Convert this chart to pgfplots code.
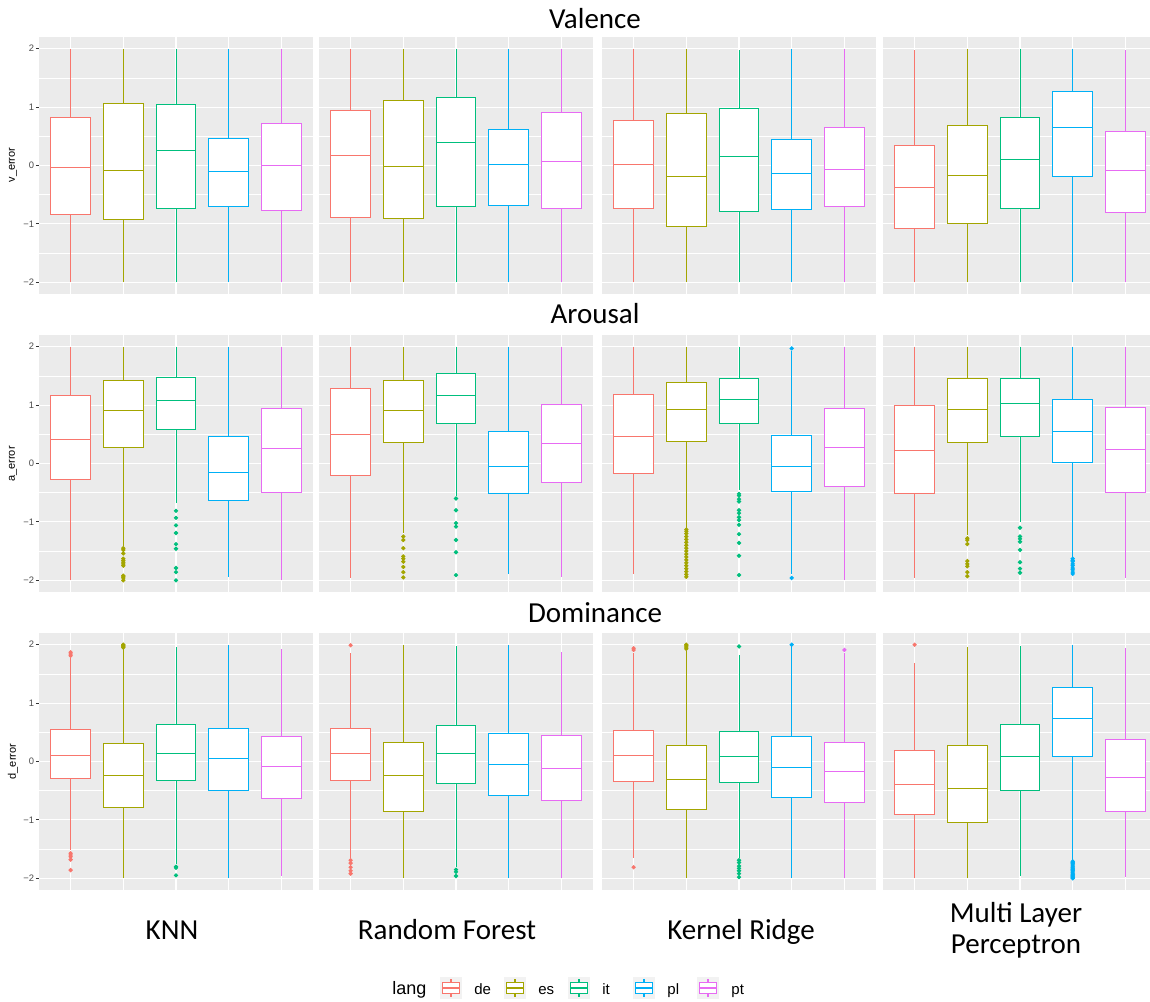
\documentclass[border=0pt]{standalone}
\usepackage{fontspec}
\setmainfont{Liberation Sans}
\newfontfamily\calfont{Carlito}
\usepackage{pgfplots}
\pgfplotsset{compat=1.18}
\usepgfplotslibrary{statistics}
\definecolor{cde}{HTML}{F8766D}
\definecolor{ces}{HTML}{A3A500}
\definecolor{cit}{HTML}{00BF7D}
\definecolor{cpl}{HTML}{00B0F6}
\definecolor{cpt}{HTML}{E76BF3}
\definecolor{ggbg}{HTML}{EBEBEB}
\definecolor{ggkey}{HTML}{F2F2F2}
\definecolor{ggtick}{HTML}{333333}
\definecolor{ggtext}{HTML}{4D4D4D}

\pgfplotsset{
  panel/.style={
    scale only axis, width=137pt, height=128.5pt, anchor=north west,
    xmin=0.4, xmax=5.6, ymin=-2.2, ymax=2.2,
    axis background/.style={fill=ggbg},
    axis line style={draw=none},
    xtick={1,2,3,4,5}, xticklabels={},
    ytick={-2,-1,0,1,2}, minor ytick={-1.5,-0.5,0.5,1.5},
    xmajorgrids, ymajorgrids, yminorgrids,
    major grid style={white, line width=0.55pt},
    minor grid style={white, line width=0.27pt},
    x tick style={draw=none},
    y tick style={draw=none},
    minor y tick style={draw=none},
    minor tick length=0pt,
    yticklabels={},
    boxplot/draw direction=y,
  },
  firstcol/.style={
    yticklabels={−2,−1,0,1,2},
    major y tick style={draw=ggtick, line width=0.5pt},
    tick align=outside, major tick length=1.5pt, ytick pos=left,
    yticklabel style={font=\fontsize{4.7}{5}\selectfont, text=ggtext, inner sep=0pt, xshift=-0.8pt},
  },
}
\newcommand{\bp}[7]{\addplot[#1, line width=0.5pt, fill=white,
  boxplot prepared={draw direction=y, draw position=#2, lower whisker=#3, lower quartile=#4,
  median=#5, upper quartile=#6, upper whisker=#7, box extend=0.75, whisker extend=0}] coordinates {};}
\newcommand{\bpo}[8]{\addplot[#1, line width=0.5pt, fill=white, mark=*, mark size=0.8pt,
  mark options={solid, fill=#1, draw=none},
  boxplot prepared={draw direction=y, draw position=#2, lower whisker=#3, lower quartile=#4,
  median=#5, upper quartile=#6, upper whisker=#7, box extend=0.75, whisker extend=0}]
  table[row sep=\\, y index=0] {d\\ #8};}
\newcommand\lkey[3]{%
  \begin{scope}[xshift=#1pt]
    \fill[ggkey] (0,-488.5pt) rectangle (11pt,-499.5pt);
    \draw[#2, line width=0.55pt, fill=white] (1.375pt,-491.25pt) rectangle (9.625pt,-496.75pt);
    \draw[#2, line width=0.55pt] (1.375pt,-494pt) -- (9.625pt,-494pt);
    \draw[#2, line width=0.55pt] (5.5pt,-489.6pt) -- (5.5pt,-491.25pt) (5.5pt,-496.75pt) -- (5.5pt,-498.4pt);
    \node[anchor=base west, font=\fontsize{7.5}{8}\selectfont, inner sep=0pt] at (17pt,-497pt) {#3};
  \end{scope}}

\begin{document}
\begin{tikzpicture}
\useasboundingbox (0,0) rectangle (575pt,-500.5pt);
\fill[white] (0,0) rectangle (575pt,-500.5pt);

% ================= Valence =================
\begin{axis}[panel, firstcol, at={(19.5pt,-18.5pt)}]
\bp{cde}{1}{-2}{-0.84}{-0.03}{0.82}{2}
\bp{ces}{2}{-2}{-0.92}{-0.09}{1.06}{2}
\bp{cit}{3}{-2}{-0.73}{0.26}{1.05}{2}
\bp{cpl}{4}{-2}{-0.71}{-0.11}{0.47}{2}
\bp{cpt}{5}{-2}{-0.77}{0.00}{0.72}{2}
\end{axis}
\begin{axis}[panel, at={(159.5pt,-18.5pt)}]
\bp{cde}{1}{-2}{-0.89}{0.17}{0.95}{2}
\bp{ces}{2}{-2}{-0.90}{-0.02}{1.12}{2}
\bp{cit}{3}{-2}{-0.71}{0.40}{1.17}{2}
\bp{cpl}{4}{-2}{-0.69}{0.02}{0.61}{2}
\bp{cpt}{5}{-2}{-0.74}{0.07}{0.91}{2}
\end{axis}
\begin{axis}[panel, at={(301pt,-18.5pt)}]
\bp{cde}{1}{-2}{-0.73}{0.01}{0.77}{2}
\bp{ces}{2}{-2}{-1.05}{-0.19}{0.89}{2}
\bp{cit}{3}{-2}{-0.78}{0.16}{0.98}{1.98}
\bp{cpl}{4}{-2}{-0.76}{-0.14}{0.44}{2}
\bp{cpt}{5}{-1.99}{-0.70}{-0.07}{0.65}{2}
\end{axis}
\begin{axis}[panel, at={(441.5pt,-18.5pt)}]
\bp{cde}{1}{-2}{-1.08}{-0.38}{0.34}{1.98}
\bp{ces}{2}{-2}{-1.00}{-0.17}{0.68}{2}
\bp{cit}{3}{-2}{-0.74}{0.11}{0.83}{2}
\bp{cpl}{4}{-2}{-0.19}{0.65}{1.27}{2}
\bp{cpt}{5}{-2}{-0.80}{-0.09}{0.58}{1.98}
\end{axis}

% ================= Arousal =================
\begin{axis}[panel, firstcol, at={(19.5pt,-167.5pt)}]
\bp{cde}{1}{-2}{-0.28}{0.41}{1.17}{2}
\bpo{ces}{2}{-1.42}{0.28}{0.90}{1.42}{2}{-1.45\\-1.48\\-1.54\\-1.63\\-1.66\\-1.69\\-1.72\\-1.75\\-1.92\\-1.94\\-1.96\\-2.0\\}
\bpo{cit}{3}{-0.68}{0.58}{1.08}{1.48}{2}{-0.81\\-0.93\\-1.06\\-1.19\\-1.38\\-1.46\\-1.79\\-1.86\\-2.0\\}
\bp{cpl}{4}{-1.95}{-0.63}{-0.15}{0.46}{2}
\bp{cpt}{5}{-1.99}{-0.49}{0.26}{0.95}{2}
\end{axis}
\begin{axis}[panel, at={(159.5pt,-167.5pt)}]
\bp{cde}{1}{-1.96}{-0.20}{0.50}{1.29}{2}
\bpo{ces}{2}{-1.19}{0.36}{0.91}{1.42}{2}{-1.25\\-1.31\\-1.45\\-1.59\\-1.63\\-1.68\\-1.77\\-1.86\\-1.95\\}
\bpo{cit}{3}{-0.55}{0.69}{1.16}{1.54}{2}{-0.60\\-0.80\\-1.02\\-1.08\\-1.31\\-1.52\\-1.91\\}
\bp{cpl}{4}{-1.89}{-0.51}{-0.05}{0.55}{2}
\bp{cpt}{5}{-1.94}{-0.32}{0.34}{1.01}{2}
\end{axis}
\begin{axis}[panel, at={(301pt,-167.5pt)}]
\bp{cde}{1}{-1.89}{-0.17}{0.47}{1.18}{2}
\bpo{ces}{2}{-1.11}{0.38}{0.93}{1.38}{2}{-1.13\\-1.16\\-1.2\\-1.25\\-1.3\\-1.35\\-1.4\\-1.45\\-1.5\\-1.55\\-1.6\\-1.65\\-1.7\\-1.75\\-1.8\\-1.85\\-1.9\\-1.94\\}
\bpo{cit}{3}{-0.45}{0.69}{1.09}{1.46}{2}{-0.52\\-0.55\\-0.61\\-0.65\\-0.80\\-0.85\\-0.92\\-0.97\\-1.05\\-1.21\\-1.36\\-1.58\\-1.91\\}
\bpo{cpl}{4}{-1.89}{-0.48}{-0.05}{0.48}{1.92}{1.97\\-1.96\\}
\bp{cpt}{5}{-2}{-0.39}{0.28}{0.94}{2}
\end{axis}
\begin{axis}[panel, at={(441.5pt,-167.5pt)}]
\bp{cde}{1}{-1.96}{-0.51}{0.23}{1.00}{2}
\bpo{ces}{2}{-1.23}{0.36}{0.93}{1.45}{2}{-1.28\\-1.31\\-1.38\\-1.67\\-1.72\\-1.76\\-1.86\\-1.93\\}
\bpo{cit}{3}{-1.0}{0.47}{1.02}{1.45}{2}{-1.10\\-1.25\\-1.29\\-1.34\\-1.48\\-1.69\\-1.80\\-1.87\\}
\bpo{cpl}{4}{-1.60}{0.01}{0.55}{1.10}{2}{-1.63\\-1.66\\-1.68\\-1.72\\-1.75\\-1.79\\-1.82\\-1.86\\-1.89\\}
\bp{cpt}{5}{-1.96}{-0.49}{0.24}{0.96}{2}
\end{axis}

% ================= Dominance =================
\begin{axis}[panel, firstcol, at={(19.5pt,-316.5pt)}]
\bpo{cde}{1}{-1.52}{-0.29}{0.10}{0.54}{1.78}{1.81\\1.84\\1.87\\-1.57\\-1.60\\-1.63\\-1.68\\-1.86\\}
\bpo{ces}{2}{-2}{-0.78}{-0.24}{0.30}{1.93}{1.95\\1.97\\1.99\\2.0\\}
\bpo{cit}{3}{-1.75}{-0.33}{0.14}{0.63}{1.96}{-1.80\\-1.82\\-1.95\\}
\bp{cpl}{4}{-2}{-0.49}{0.06}{0.57}{2}
\bp{cpt}{5}{-1.96}{-0.64}{-0.09}{0.43}{1.93}
\end{axis}
\begin{axis}[panel, at={(159.5pt,-316.5pt)}]
\bpo{cde}{1}{-1.66}{-0.33}{0.13}{0.56}{1.86}{1.99\\-1.69\\-1.74\\-1.81\\-1.87\\-1.92\\}
\bp{ces}{2}{-2}{-0.85}{-0.24}{0.32}{2}
\bpo{cit}{3}{-1.80}{-0.37}{0.14}{0.61}{1.98}{-1.85\\-1.89\\-1.96\\}
\bp{cpl}{4}{-2}{-0.59}{-0.05}{0.48}{2}
\bp{cpt}{5}{-1.99}{-0.66}{-0.12}{0.44}{1.87}
\end{axis}
\begin{axis}[panel, at={(301pt,-316.5pt)}]
\bpo{cde}{1}{-1.66}{-0.35}{0.10}{0.53}{1.86}{1.91\\1.94\\-1.81\\}
\bpo{ces}{2}{-2}{-0.83}{-0.31}{0.27}{1.90}{1.93\\1.96\\1.98\\2.0\\}
\bpo{cit}{3}{-1.66}{-0.36}{0.09}{0.52}{1.83}{1.97\\-1.69\\-1.73\\-1.79\\-1.83\\-1.87\\-1.92\\-1.98\\}
\bpo{cpl}{4}{-2}{-0.62}{-0.11}{0.42}{1.98}{2.0\\}
\bpo{cpt}{5}{-2}{-0.70}{-0.17}{0.33}{1.86}{1.91\\}
\end{axis}
\begin{axis}[panel, at={(441.5pt,-316.5pt)}]
\bpo{cde}{1}{-2}{-0.91}{-0.40}{0.19}{1.69}{2.0\\}
\bp{ces}{2}{-2}{-1.05}{-0.47}{0.27}{1.96}
\bp{cit}{3}{-1.96}{-0.49}{0.09}{0.64}{1.98}
\bpo{cpl}{4}{-1.69}{0.08}{0.74}{1.26}{2}{-1.71\\-1.73\\-1.75\\-1.77\\-1.79\\-1.81\\-1.83\\-1.85\\-1.87\\-1.89\\-1.91\\-1.93\\-1.95\\-1.97\\-1.99\\-2.0\\}
\bp{cpt}{5}{-1.97}{-0.86}{-0.27}{0.38}{1.95}
\end{axis}

% y labels
\node[rotate=90, font=\fontsize{5.5}{6}\selectfont, inner sep=0pt] at (6.5pt,-82.5pt) {v\_error};
\node[rotate=90, font=\fontsize{5.5}{6}\selectfont, inner sep=0pt] at (6.5pt,-232pt) {a\_error};
\node[rotate=90, font=\fontsize{5.5}{6}\selectfont, inner sep=0pt] at (6.5pt,-380.75pt) {d\_error};

% titles
\node[anchor=base, font=\calfont\fontsize{14.5}{17}\selectfont, inner sep=0pt] at (297.5pt,-14pt) {Valence};
\node[anchor=base, font=\calfont\fontsize{14.5}{17}\selectfont, inner sep=0pt] at (297.5pt,-161.5pt) {Arousal};
\node[anchor=base, font=\calfont\fontsize{14.5}{17}\selectfont, inner sep=0pt] at (297.5pt,-311pt) {Dominance};

% bottom labels
\node[anchor=base, font=\calfont\fontsize{14.5}{17}\selectfont, inner sep=0pt] at (86pt,-469.5pt) {KNN};
\node[anchor=base, font=\calfont\fontsize{14.5}{17}\selectfont, inner sep=0pt] at (223.5pt,-469.5pt) {Random Forest};
\node[anchor=base, font=\calfont\fontsize{14.5}{17}\selectfont, inner sep=0pt] at (370.5pt,-469.5pt) {Kernel Ridge};
\node[anchor=base, font=\calfont\fontsize{14.5}{17}\selectfont, inner sep=0pt] at (508pt,-461pt) {Multi Layer};
\node[anchor=base, font=\calfont\fontsize{14.5}{17}\selectfont, inner sep=0pt] at (508pt,-476.5pt) {Perceptron};

% legend
\node[anchor=base west, font=\fontsize{9}{10}\selectfont, inner sep=0pt] at (196pt,-497pt) {lang};
\lkey{220}{cde}{de}
\lkey{252}{ces}{es}
\lkey{284}{cit}{it}
\lkey{316.5}{cpl}{pl}
\lkey{348.5}{cpt}{pt}
\end{tikzpicture}
\end{document}
